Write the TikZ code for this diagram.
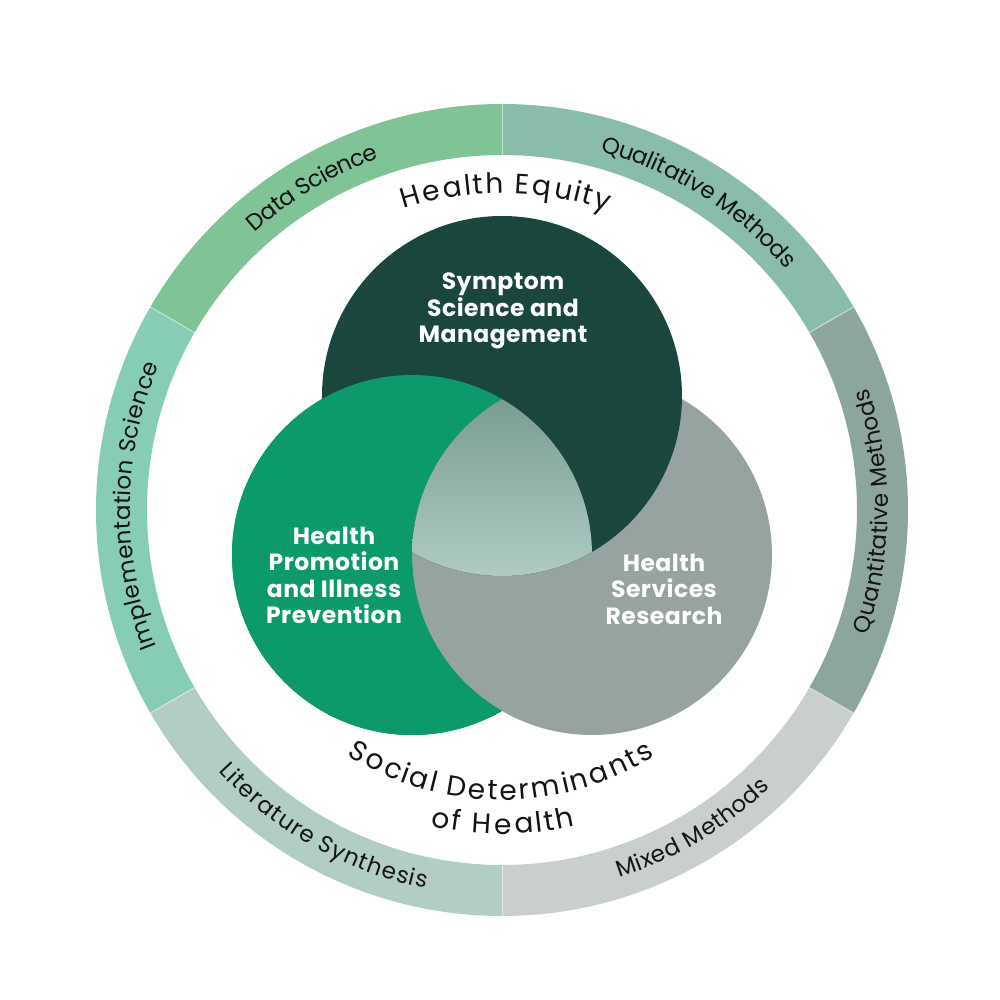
\documentclass[tikz,border=0pt]{standalone}
\usepackage{fontspec}
\setmainfont{Poppins}
\usetikzlibrary{decorations.text}
\definecolor{cDS}{HTML}{7FC397}
\definecolor{cQL}{HTML}{8ABDA9}
\definecolor{cQN}{HTML}{8DA69C}
\definecolor{cMM}{HTML}{C9CFCD}
\definecolor{cLS}{HTML}{B2CEC3}
\definecolor{cIS}{HTML}{87CCB5}
\definecolor{darkc}{HTML}{1A463D}
\definecolor{greenc}{HTML}{0C9A6C}
\definecolor{grayc}{HTML}{97A3A0}
\definecolor{gtop}{HTML}{7A9D90}
\definecolor{gmid}{HTML}{6CC3A6}
\definecolor{gbot}{HTML}{AFCBC4}
\definecolor{labelc}{HTML}{141414}
\newcommand\ringfs{\fontsize{23}{23}\selectfont}
\newcommand\bigfs{\fontsize{28}{28}\selectfont}
\tikzset{
  curvetext/.style n args={2}{decorate, decoration={text effects along path,
      text={#2}, text effects/.cd, text along path, fit text to path,
      every character/.style={font=#1, text=labelc}}},
  circlabel/.style={text=white, align=center, inner sep=0pt,
      font=\bfseries\fontsize{23.5}{26.5}\selectfont\addfontfeature{LetterSpace=2}},
  seam/.style={white, line width=1pt, opacity=0.5},
}
\begin{document}
\begin{tikzpicture}[x=1pt,y=1pt]
\useasboundingbox (-502,-490) rectangle (498,510);
\fill[white] (-502,-490) rectangle (498,510);
% ring segments
\foreach \a/\c in {90/cDS,150/cIS,210/cLS,270/cMM,330/cQN,30/cQL}{
  \fill[\c] (\a:406) arc[start angle=\a, delta angle=60, radius=406]
     -- ({\a+60}:355) arc[start angle={\a+60}, delta angle=-60, radius=355] -- cycle;
}
\foreach \a in {30,90,150,210,270,330}{
  \draw[seam] (\a:355) -- (\a:406);
}
% ring labels
\path[curvetext={\ringfs}{Data Science}] (131.7:372) arc[start angle=131.7, end angle=109.3, radius=372];
\path[curvetext={\ringfs}{Qualitative Methods}] (74.7:372) arc[start angle=74.7, end angle=40.2, radius=372];
\path[curvetext={\ringfs}{Implementation Science}] (201.6:372) arc[start angle=201.6, end angle=157.1, radius=372];
\path[curvetext={\ringfs}{Quantitative Methods}] (-18.9:386) arc[start angle=-18.9, end angle=18.4, radius=386];
\path[curvetext={\ringfs}{Mixed Methods}] (287.7:386) arc[start angle=287.7, end angle=314.1, radius=386];
\path[curvetext={\ringfs}{Literature Synthesis}] (222.7:386) arc[start angle=222.7, end angle=258.6, radius=386];
% inner labels
\path[curvetext={\bigfs}{Health Equity}] (108.1:317) arc[start angle=108.1, end angle=70.6, radius=317];
\path[curvetext={\bigfs}{Social Determinants}] (237.7:290) arc[start angle=237.7, end angle=301.8, radius=290];
\path[curvetext={\bigfs}{of Health}] (257.2:324) arc[start angle=257.2, end angle=283.1, radius=324];
% circles
\coordinate (D) at (0,114);
\coordinate (G) at (90,-45);
\coordinate (P) at (-90,-45);
\fill[greenc] (P) circle[radius=180];
\fill[grayc] (G) circle[radius=180];
\fill[darkc] (D) circle[radius=180];
\begin{scope}[even odd rule]
  \clip (G) circle[radius=180]
     (-600,-600) -- (-600,600) -- (600,600) -- (600,-600) -- cycle;
  \fill[greenc] (P) circle[radius=180];
\end{scope}
\begin{scope}
  \clip (D) circle[radius=180];
  \clip (G) circle[radius=180];
  \clip (P) circle[radius=180];
  \shade[top color=gtop, middle color=gmid, bottom color=gbot] (-95,-67) rectangle (95,113);
\end{scope}
\node[circlabel] (symlab) at (1,199) {Symptom\\Science and\\Management};
\node[circlabel] (hplab) at (-168,-65.5) {Health\\Promotion\\and Illness\\Prevention};
\node[circlabel] (hslab) at (162,-79) {Health\\Services\\Research};
\end{tikzpicture}
\end{document}
